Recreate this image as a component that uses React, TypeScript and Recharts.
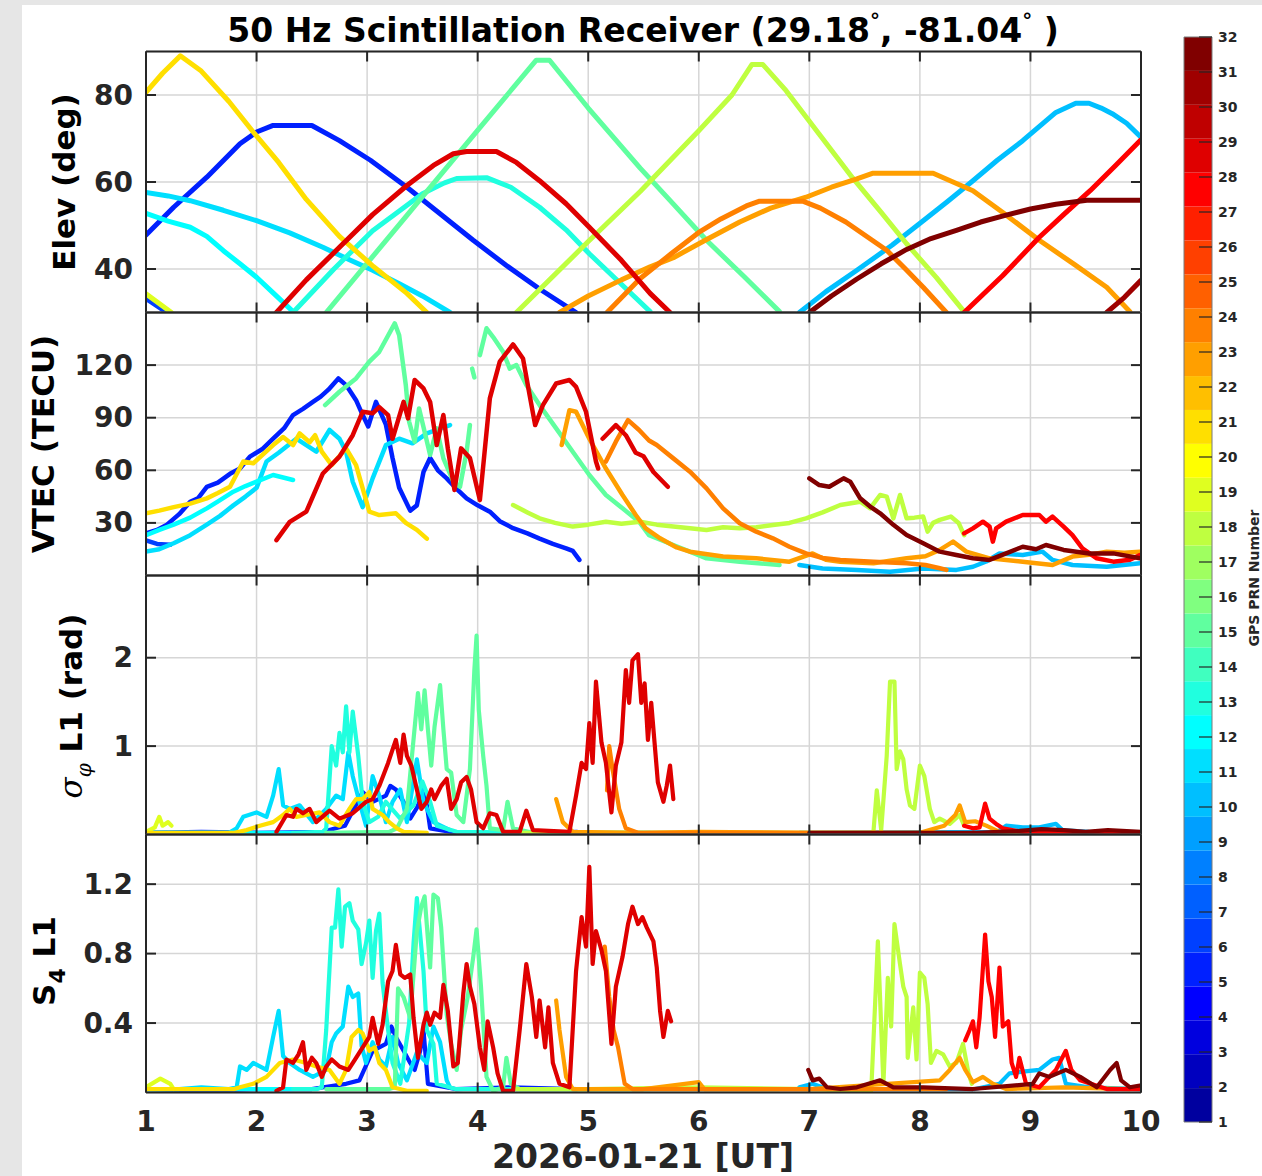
import React from "react";
import { LineChart, Line, XAxis, YAxis, CartesianGrid, ReferenceArea } from "recharts";

type Pt = [number, number | null];

// ---------------- axes / ticks ----------------
const hourTicks = [1, 2, 3, 4, 5, 6, 7, 8, 9, 10];
const elevTicks = [40, 60, 80];
const vtecTicks = [30, 60, 90, 120];
const sigTicks = [1, 2];
const s4Ticks = [0.4, 0.8, 1.2];
const prnTicks = Array.from({ length: 32 }, (_, i) => i + 1);

const titleText = "50 Hz Scintillation Receiver";
const latText = "29.18";
const lonText = "-81.04";
const xLabelText = "2026-01-21 [UT]";
const cbLabelText = "GPS PRN Number";

// ---------------- Elevation (deg) ----------------
const elevPrn05: Pt[] = [[1.0,47.8],[1.25,54.2],[1.55,61.1],[1.85,68.8],[2.0,71.5],[2.15,73],[2.5,73],[2.75,69.5],[3.03,65],[3.36,58.8],[3.66,52.7],[3.96,46.6],[4.26,40.8],[4.56,35.4],[4.89,30]];
const elevPrn06: Pt[] = [[1.0,33.2],[1.19,30]];
const elevPrn11: Pt[] = [[1.0,57.6],[1.2,56.8],[1.4,55.7],[1.7,53.5],[2.0,51.1],[2.3,48.3],[2.6,45],[2.85,42],[3.05,39.7],[3.3,36.5],[3.5,33.8],[3.75,30]];
const elevPrn12: Pt[] = [[1.0,52.8],[1.2,51],[1.4,49.6],[1.55,47.5],[1.7,44.2],[1.85,41.2],[2.0,38.1],[2.15,34.5],[2.33,30.2]];
const elevPrn13: Pt[] = [[2.33,30],[2.7,40],[3.05,48.8],[3.3,53.5],[3.5,57.3],[3.7,59.8],[3.81,60.8],[4.08,61],[4.3,58.8],[4.56,54.2],[4.8,49],[5.01,43.5],[5.3,36.5],[5.56,30.2]];
const elevPrn15: Pt[] = [[2.63,30],[3.3,50.5],[3.99,71.6],[4.53,88],[4.65,88],[5.0,77],[5.47,63.2],[5.75,55.5],[6.07,46.6],[6.4,38.5],[6.73,30.2]];
const elevPrn18: Pt[] = [[4.35,30],[5.0,46.3],[5.47,57.8],[6.0,71.8],[6.3,80],[6.48,87],[6.58,87],[6.79,81],[7.09,71],[7.39,61],[7.65,53],[7.88,45.8],[8.15,38],[8.40,30.2]];
const elevPrn19: Pt[] = [[1.0,34.3],[1.23,30]];
const elevPrn21: Pt[] = [[1.0,80.6],[1.15,85],[1.31,89],[1.5,85.5],[1.75,78.5],[1.97,71.5],[2.2,64.5],[2.45,56],[2.75,47.5],[3.06,40.5],[3.36,34.4],[3.54,30]];
const elevPrn23: Pt[] = [[4.74,30],[5.0,33.8],[5.3,37.5],[5.56,40.5],[5.77,42.6],[6.05,46.5],[6.37,50.8],[6.65,54],[6.97,56.5],[7.2,58.8],[7.43,60.7],[7.57,62],[8.12,62],[8.3,60],[8.48,58],[8.75,53],[9.08,46.6],[9.4,41],[9.69,35.8],[9.90,30.2]];
const elevPrn24: Pt[] = [[5.17,30],[5.47,37.8],[5.75,43.5],[6.0,48.4],[6.2,51.5],[6.43,54.5],[6.55,55.6],[6.94,55.6],[7.1,54],[7.33,50.8],[7.5,47.8],[7.70,44.3],[7.87,40],[8.03,35.8],[8.24,30]];
const elevPrn10: Pt[] = [[6.91,30],[7.15,34.8],[7.43,39.7],[7.75,45.5],[8.03,51.1],[8.25,55.5],[8.48,60.3],[8.7,65],[8.93,69.5],[9.1,73.2],[9.23,76],[9.41,78.1],[9.53,78.1],[9.64,77],[9.74,75.7],[9.87,73.5],[10.0,70.3]];
const elevPrn28: Pt[] = [[8.40,30],[8.75,38.5],[9.08,47.3],[9.3,52.5],[9.54,58],[9.77,63.8],[10.0,69.7]];
const elevPrn29: Pt[] = [[2.18,30],[2.45,37.5],[2.75,45],[3.05,52.5],[3.36,59.2],[3.6,63.8],[3.78,66.5],[3.9,67],[4.17,67],[4.35,64.5],[4.56,60.3],[4.8,55],[5.01,49.6],[5.3,42],[5.56,34.4],[5.74,30]];
const elevPrn31: Pt[] = [[9.69,30],[9.85,33.5],[10.0,37.4]];
const elevPrn32: Pt[] = [[7.0,30],[7.2,33.8],[7.43,37.7],[7.65,41.2],[7.88,44.5],[8.1,47],[8.33,48.9],[8.55,50.8],[8.78,52.4],[9.0,53.8],[9.23,54.9],[9.51,55.8],[10.0,55.8]];

// ---------------- VTEC (TECU) ----------------
const vtecPrn05: Pt[] = [[1.0,24],[1.1,26],[1.19,29],[1.3,35],[1.40,42],[1.47,44],[1.55,50.6],[1.65,53],[1.76,58],[1.85,61],[1.94,67.8],[2.05,72],[2.15,78],[2.25,84],[2.33,91.5],[2.42,95],[2.51,99],[2.58,102],[2.65,106],[2.74,112.4],[2.81,108.6],[2.90,100],[2.96,91.5],[3.01,85],[3.08,99],[3.17,86],[3.23,67],[3.29,50],[3.39,37],[3.45,40],[3.51,59],[3.57,67],[3.64,60],[3.72,55.4],[3.80,50],[3.90,44],[4.0,40],[4.11,36.4],[4.2,31],[4.32,27],[4.45,24],[4.56,21],[4.68,18],[4.80,15.5],[4.86,14],[4.92,8.9]];
const vtecPrn06: Pt[] = [[1.0,20],[1.1,18],[1.22,17.5]];
const vtecPrn11: Pt[] = [[1.0,13.6],[1.12,15],[1.25,18.4],[1.4,23],[1.55,29],[1.67,34],[1.79,40],[1.9,45],[2.0,50],[2.09,65],[2.2,70],[2.36,78],[2.54,70.6],[2.66,83],[2.75,78],[2.81,70.6],[2.87,53.5],[2.96,39],[3.05,55.4],[3.17,74.4],[3.29,78],[3.41,75.4],[3.54,81],[3.75,85.8]];
const vtecPrn12: Pt[] = [[1.0,23],[1.12,26],[1.25,29],[1.4,33],[1.55,38.3],[1.67,43],[1.79,47.8],[1.9,51],[2.0,53.5],[2.15,57.3],[2.33,54.5]];
const vtecPrn15: Pt[] = [[2.62,97.2],[2.75,104.8],[2.90,112.4],[3.02,122],[3.11,127.6],[3.25,143.8],[3.29,137],[3.35,108.6],[3.38,87.7],[3.43,76.3],[3.47,95.3],[3.52,82],[3.57,68.7],[3.63,83.9],[3.69,66.8],[3.78,53.5],[3.84,50.6],[3.90,70.6],[3.93,85.8],[3.945,null],[3.95,118],[3.97,113],[3.985,null],[4.02,125.7],[4.08,141],[4.14,136],[4.23,127.6],[4.29,118],[4.35,120],[4.44,108.6],[4.56,97.2],[4.71,83.9],[4.86,70.6],[5.01,57.3],[5.16,45.9],[5.31,38.3],[5.46,30.7],[5.55,23],[5.77,17.4],[6.07,9.8],[6.37,7.9],[6.73,6]];
const vtecPrn18: Pt[] = [[4.32,40.2],[4.45,36],[4.56,32.6],[4.7,30],[4.86,27.9],[5.0,29],[5.16,30.7],[5.3,29.5],[5.47,30.7],[5.62,29],[5.77,27.9],[5.92,27],[6.07,26],[6.22,27.5],[6.37,26.9],[6.52,27.5],[6.67,28.8],[6.82,30],[6.97,32.6],[7.12,36],[7.28,40.2],[7.46,42.1],[7.55,38.3],[7.64,45.9],[7.70,45],[7.76,32.6],[7.82,45.9],[7.88,32.6],[7.95,33],[8.03,33.6],[8.07,25],[8.12,30],[8.18,31.7],[8.28,33.6],[8.35,30],[8.40,23]];
const vtecPrn21: Pt[] = [[1.0,35.5],[1.12,37],[1.25,39],[1.4,41],[1.55,44],[1.65,47],[1.76,50.6],[1.88,65],[1.97,64],[2.15,74.4],[2.24,79],[2.33,74.4],[2.39,81],[2.48,76],[2.53,80],[2.59,70.6],[2.68,63],[2.81,72.5],[2.90,63],[3.02,36.4],[3.11,34.5],[3.26,35.5],[3.35,30],[3.45,26],[3.54,21]];
const vtecPrn23: Pt[] = [[4.76,74.4],[4.83,94.3],[4.89,93.4],[5.01,78],[5.16,61],[5.31,45.9],[5.43,34.5],[5.52,26.9],[5.65,21.2],[5.80,16],[5.92,13.6],[6.22,10.8],[6.52,9.8],[6.82,7.9],[7.03,12.6],[7.15,9],[7.28,7.9],[7.58,7],[7.88,9.8],[8.05,11],[8.18,14.6],[8.30,19.3],[8.42,13.6],[8.63,9.8],[8.93,7.9],[9.20,6],[9.38,10.8],[9.55,12],[9.69,13.6],[9.85,13],[9.99,13.6]];
const vtecPrn24: Pt[] = [[5.16,65],[5.25,76.3],[5.36,88.6],[5.46,83],[5.55,77],[5.62,74.4],[5.77,66.8],[5.92,59.2],[6.07,49.7],[6.22,38.3],[6.37,29.8],[6.52,25],[6.67,21.2],[6.82,16.4],[6.97,12.6],[7.12,10],[7.28,8.9],[7.58,7.9],[7.88,7],[8.05,6],[8.18,4.1],[8.24,3.2]];
const vtecPrn10: Pt[] = [[6.91,6],[7.12,4],[7.43,3.2],[7.73,2.2],[8.03,4],[8.33,3.2],[8.48,5],[8.6,8],[8.72,12.6],[8.93,11.7],[9.11,13.6],[9.20,8.9],[9.38,6],[9.69,5],[9.99,7]];
const vtecPrn28: Pt[] = [[8.40,24],[8.48,26.9],[8.57,30.7],[8.63,27.9],[8.66,19.3],[8.69,26.9],[8.78,30.7],[8.93,34.5],[9.08,34.5],[9.14,30.7],[9.20,33.6],[9.30,27.9],[9.38,23],[9.47,15.5],[9.60,9.8],[9.75,7.9],[9.9,9],[9.99,11.7]];
const vtecPrn29: Pt[] = [[2.18,20.2],[2.30,30.6],[2.45,36.4],[2.60,58.2],[2.75,67.8],[2.87,80],[2.96,93.4],[3.05,92.5],[3.11,96],[3.19,91.5],[3.23,78],[3.33,99],[3.37,89.6],[3.43,111.5],[3.51,106.7],[3.57,99],[3.63,74.4],[3.69,91.5],[3.73,72.5],[3.79,48.8],[3.85,72.5],[3.93,67],[4.02,43],[4.11,101],[4.20,122],[4.32,131.8],[4.41,123.8],[4.47,102.9],[4.52,85.8],[4.59,97.2],[4.71,109.5],[4.83,111.5],[4.89,107.6],[4.98,93.4],[5.07,65],[5.09,61],[5.11,null],[5.13,78],[5.25,85.8],[5.34,80],[5.43,70],[5.50,68],[5.59,59],[5.72,50.6]];
const vtecPrn32: Pt[] = [[7.0,55.4],[7.09,51.6],[7.18,50.6],[7.31,55.4],[7.37,53.5],[7.46,44],[7.55,39.3],[7.64,35.5],[7.76,28.9],[7.88,23.1],[8.03,18.4],[8.18,13.6],[8.33,11.7],[8.48,9.8],[8.63,8.9],[8.78,12.6],[8.93,16.4],[9.05,15],[9.14,17.4],[9.30,14.6],[9.53,12.6],[9.75,12.6],[9.99,9.8]];

// ---------------- sigma_phi L1 (rad) ----------------
const sigPrn05: Pt[] = [[1.0,0.02],[1.5,0.03],[2.0,0.02],[2.6,0.03],[2.8,0.1],[2.96,0.48],[3.05,0.37],[3.17,0.44],[3.21,0.55],[3.26,0.51],[3.33,0.37],[3.39,0.18],[3.45,0.3],[3.52,0.51],[3.57,0.07],[3.8,0.02],[4.5,0.02],[4.9,0.03]];
const sigPrn06: Pt[] = [[1.0,0.02],[1.19,0.02]];
const sigPrn11: Pt[] = [[1.0,0.02],[1.75,0.02],[1.82,0.07],[1.88,0.2],[2.0,0.25],[2.09,0.2],[2.15,0.44],[2.20,0.74],[2.24,0.33],[2.30,0.29],[2.39,0.33],[2.51,0.14],[2.63,0.29],[2.72,0.44],[2.78,0.4],[2.83,0.93],[2.87,0.66],[2.93,0.37],[2.99,0.1],[3.05,0.66],[3.11,0.44],[3.17,0.14],[3.23,0.37],[3.30,0.51],[3.36,0.14],[3.45,0.85],[3.51,0.37],[3.60,0.14],[3.75,0.05]];
const sigPrn12: Pt[] = [[1.0,0.02],[2.33,0.02]];
const sigPrn13: Pt[] = [[2.33,0.02],[2.6,0.03],[2.63,0.07],[2.68,1.0],[2.72,0.78],[2.75,1.15],[2.78,0.93],[2.81,1.45],[2.84,0.93],[2.87,1.39],[2.92,0.89],[2.96,0.37],[3.02,0.14],[3.10,0.2],[3.17,0.37],[3.30,0.18],[3.42,0.33],[3.50,0.6],[3.57,0.37],[3.63,0.1],[3.81,0.03],[4.5,0.02],[5.56,0.02]];
const sigPrn15: Pt[] = [[2.63,0.02],[3.2,0.03],[3.27,0.07],[3.36,0.29],[3.46,1.6],[3.49,1.19],[3.52,1.63],[3.55,1.19],[3.58,0.78],[3.61,1.22],[3.66,1.69],[3.69,1.19],[3.72,0.74],[3.76,0.7],[3.81,0.22],[3.87,0.14],[3.93,0.74],[3.97,1.86],[3.99,2.25],[4.01,1.41],[4.05,0.89],[4.08,0.55],[4.11,0.07],[4.23,0.05],[4.27,0.37],[4.32,0.07],[4.5,0.02],[6.73,0.02]];
const sigPrn18: Pt[] = [[4.35,0.02],[7.55,0.02],[7.58,0.03],[7.61,0.5],[7.65,0.05],[7.70,0.89],[7.73,1.73],[7.77,1.73],[7.79,0.74],[7.82,0.94],[7.85,0.85],[7.88,0.51],[7.91,0.33],[7.95,0.29],[8.0,0.78],[8.04,0.66],[8.09,0.29],[8.13,0.14],[8.18,0.18],[8.27,0.12],[8.36,0.22],[8.40,0.1]];
const sigPrn19: Pt[] = [[1.0,0.03],[1.08,0.08],[1.12,0.2],[1.15,0.1],[1.2,0.14],[1.23,0.1]];
const sigPrn21: Pt[] = [[1.0,0.02],[1.8,0.02],[1.91,0.05],[2.03,0.1],[2.15,0.14],[2.24,0.22],[2.30,0.29],[2.36,0.2],[2.45,0.22],[2.57,0.25],[2.66,0.14],[2.75,0.1],[2.84,0.29],[2.90,0.4],[2.96,0.4],[3.02,0.48],[3.05,0.29],[3.14,0.22],[3.20,0.14],[3.27,0.07],[3.33,0.03],[3.54,0.02]];
const sigPrn23: Pt[] = [[4.71,0.40],[4.77,0.14],[4.86,0.03],[5.5,0.02],[6.0,0.03],[7.0,0.02],[8.0,0.02],[8.22,0.1],[8.32,0.22],[8.36,0.33],[8.41,0.14],[8.50,0.15],[8.60,0.1],[8.72,0.03],[9.9,0.02]];
const sigPrn24: Pt[] = [[5.17,0.5],[5.19,1.0],[5.22,0.74],[5.28,0.29],[5.34,0.07],[5.45,0.02],[8.24,0.02]];
const sigPrn10: Pt[] = [[6.91,0.02],[8.7,0.03],[8.78,0.1],[8.93,0.08],[9.08,0.08],[9.23,0.12],[9.29,0.05],[9.53,0.03],[10,0.02]];
const sigPrn28: Pt[] = [[8.40,0.1],[8.48,0.07],[8.54,0.08],[8.59,0.35],[8.63,0.18],[8.69,0.12],[8.75,0.07],[8.93,0.03],[9.38,0.01],[10,0.01]];
const sigPrn29: Pt[] = [[2.18,0.03],[2.27,0.22],[2.33,0.2],[2.36,0.29],[2.42,0.24],[2.48,0.29],[2.54,0.14],[2.66,0.27],[2.75,0.18],[2.87,0.24],[2.99,0.37],[3.05,0.4],[3.11,0.55],[3.19,0.81],[3.23,0.96],[3.26,1.07],[3.30,0.81],[3.33,1.13],[3.36,0.89],[3.40,0.78],[3.45,0.51],[3.49,0.29],[3.54,0.37],[3.58,0.51],[3.61,0.4],[3.67,0.55],[3.72,0.63],[3.76,0.29],[3.81,0.4],[3.85,0.59],[3.90,0.65],[3.94,0.51],[3.99,0.14],[4.05,0.07],[4.11,0.24],[4.17,0.22],[4.23,0.03],[4.38,0.03],[4.44,0.27],[4.50,0.05],[4.83,0.03],[4.89,0.44],[4.94,0.81],[4.98,0.74],[5.01,1.26],[5.04,0.81],[5.07,1.73],[5.12,1.04],[5.16,0.81],[5.21,0.25],[5.25,0.78],[5.30,1.04],[5.34,1.86],[5.37,1.49],[5.40,1.97],[5.45,2.04],[5.48,1.49],[5.51,1.71],[5.54,1.07],[5.57,1.49],[5.60,1.04],[5.63,0.59],[5.68,0.37],[5.71,0.55],[5.74,0.78],[5.77,0.40]];
const sigPrn32: Pt[] = [[7.0,0.02],[8.5,0.02],[8.9,0.04],[9.1,0.06],[9.3,0.05],[9.5,0.03],[9.7,0.05],[10,0.03]];

// ---------------- S4 L1 ----------------
const s4Prn05: Pt[] = [[1.0,0.02],[1.5,0.01],[2.0,0.02],[2.5,0.02],[2.81,0.05],[2.93,0.07],[3.05,0.24],[3.17,0.28],[3.22,0.38],[3.26,0.32],[3.33,0.24],[3.39,0.17],[3.43,0.13],[3.48,0.24],[3.51,0.36],[3.55,0.05],[3.8,0.02],[4.3,0.03],[4.9,0.02]];
const s4Prn06: Pt[] = [[1.0,0.02],[1.19,0.02]];
const s4Prn11: Pt[] = [[1.0,0.02],[1.3,0.02],[1.5,0.03],[1.75,0.02],[1.82,0.03],[1.85,0.15],[1.91,0.13],[1.97,0.17],[2.03,0.15],[2.09,0.13],[2.15,0.32],[2.20,0.47],[2.24,0.21],[2.30,0.17],[2.39,0.13],[2.51,0.09],[2.63,0.13],[2.68,0.29],[2.72,0.34],[2.78,0.38],[2.83,0.61],[2.87,0.55],[2.92,0.57],[2.95,0.27],[2.99,0.17],[3.05,0.29],[3.11,0.19],[3.17,0.15],[3.23,0.32],[3.28,0.17],[3.36,0.07],[3.45,0.23],[3.54,0.17],[3.60,0.38],[3.66,0.29],[3.72,0.07],[3.75,0.03]];
const s4Prn12: Pt[] = [[1.0,0.02],[2.33,0.02]];
const s4Prn13: Pt[] = [[2.33,0.02],[2.55,0.02],[2.59,0.03],[2.63,0.36],[2.68,0.95],[2.71,0.95],[2.74,1.17],[2.77,0.84],[2.80,1.07],[2.84,1.09],[2.87,0.99],[2.92,0.94],[2.95,0.74],[2.99,0.86],[3.02,0.99],[3.05,0.66],[3.08,0.93],[3.11,1.03],[3.14,0.63],[3.19,0.36],[3.23,0.17],[3.30,0.05],[3.38,0.4],[3.42,0.86],[3.45,1.12],[3.51,0.7],[3.54,0.36],[3.60,0.28],[3.63,0.05],[3.8,0.02],[5.56,0.02]];
const s4Prn15: Pt[] = [[2.63,0.02],[3.2,0.02],[3.25,0.03],[3.28,0.6],[3.33,0.55],[3.39,0.43],[3.45,0.93],[3.49,1.07],[3.52,1.13],[3.57,0.72],[3.60,1.14],[3.64,1.12],[3.67,0.95],[3.72,0.45],[3.76,0.28],[3.81,0.13],[3.85,0.36],[3.91,0.55],[3.96,0.78],[3.99,0.94],[4.03,0.61],[4.08,0.09],[4.14,0.01],[4.23,0.03],[4.26,0.2],[4.30,0.05],[4.38,0.02],[6.73,0.02]];
const s4Prn18: Pt[] = [[4.35,0.02],[5.0,0.02],[6.0,0.03],[7.0,0.02],[7.56,0.01],[7.62,0.87],[7.67,0.05],[7.71,0.66],[7.74,0.38],[7.77,0.97],[7.82,0.74],[7.85,0.61],[7.88,0.55],[7.89,0.2],[7.94,0.49],[7.97,0.19],[8.0,0.69],[8.04,0.66],[8.07,0.51],[8.10,0.17],[8.15,0.24],[8.21,0.22],[8.27,0.15],[8.33,0.17],[8.39,0.28],[8.44,0.11],[8.47,0.05]];
const s4Prn19: Pt[] = [[1.0,0.03],[1.13,0.08],[1.22,0.05],[1.25,0.02]];
const s4Prn21: Pt[] = [[1.0,0.02],[1.8,0.02],[1.85,0.03],[1.97,0.05],[2.09,0.09],[2.21,0.17],[2.33,0.19],[2.45,0.17],[2.54,0.15],[2.66,0.13],[2.75,0.05],[2.81,0.13],[2.86,0.32],[2.92,0.36],[2.96,0.34],[3.02,0.24],[3.07,0.26],[3.11,0.17],[3.17,0.13],[3.23,0.03],[3.36,0.01],[3.54,0.01]];
const s4Prn23: Pt[] = [[4.71,0.53],[4.74,0.36],[4.80,0.09],[4.86,0.02],[5.5,0.02],[6.0,0.06],[6.05,0.02],[7.0,0.02],[8.18,0.07],[8.27,0.13],[8.36,0.2],[8.41,0.13],[8.48,0.06],[8.57,0.09],[8.66,0.05],[8.78,0.02],[9.3,0.03],[9.9,0.02]];
const s4Prn24: Pt[] = [[5.15,0.84],[5.19,0.55],[5.23,0.36],[5.27,0.26],[5.33,0.05],[5.40,0.02],[8.24,0.02]];
const s4Prn10: Pt[] = [[6.91,0.03],[7.03,0.05],[7.16,0.02],[8.5,0.02],[8.72,0.05],[8.81,0.11],[8.93,0.12],[9.08,0.13],[9.20,0.19],[9.26,0.2],[9.32,0.05],[9.53,0.03],[9.99,0.02]];
const s4Prn28: Pt[] = [[8.41,0.3],[8.45,0.36],[8.48,0.41],[8.51,0.26],[8.54,0.43],[8.59,0.91],[8.62,0.64],[8.65,0.55],[8.68,0.32],[8.72,0.72],[8.75,0.38],[8.80,0.41],[8.83,0.17],[8.87,0.09],[8.90,0.2],[8.96,0.05],[9.08,0.03],[9.23,0.13],[9.32,0.24],[9.37,0.13],[9.45,0.07],[9.69,0.02],[9.99,0.02]];
const s4Prn29: Pt[] = [[2.18,0.01],[2.24,0.03],[2.27,0.19],[2.33,0.17],[2.38,0.22],[2.42,0.29],[2.45,0.13],[2.50,0.20],[2.54,0.17],[2.59,0.09],[2.63,0.15],[2.68,0.19],[2.75,0.15],[2.83,0.13],[2.89,0.19],[2.96,0.26],[3.02,0.32],[3.05,0.43],[3.10,0.28],[3.14,0.39],[3.19,0.64],[3.23,0.70],[3.26,0.85],[3.30,0.68],[3.34,0.66],[3.39,0.68],[3.42,0.43],[3.46,0.2],[3.51,0.39],[3.54,0.46],[3.57,0.39],[3.61,0.46],[3.66,0.43],[3.69,0.62],[3.73,0.47],[3.78,0.15],[3.82,0.17],[3.87,0.57],[3.90,0.74],[3.93,0.61],[3.97,0.51],[4.02,0.26],[4.06,0.13],[4.09,0.41],[4.14,0.26],[4.18,0.11],[4.23,0.01],[4.32,0.01],[4.38,0.36],[4.44,0.74],[4.49,0.55],[4.53,0.32],[4.56,0.53],[4.61,0.26],[4.64,0.49],[4.68,0.17],[4.74,0.05],[4.83,0.03],[4.89,0.70],[4.94,1.01],[4.98,0.84],[5.01,1.30],[5.04,0.74],[5.07,0.93],[5.12,0.82],[5.16,0.70],[5.21,0.28],[5.25,0.61],[5.31,0.78],[5.36,0.97],[5.40,1.07],[5.45,0.97],[5.49,1.01],[5.53,0.95],[5.59,0.87],[5.62,0.72],[5.65,0.47],[5.68,0.32],[5.72,0.47],[5.75,0.41]];
const s4Prn32: Pt[] = [[6.99,0.13],[7.03,0.07],[7.09,0.08],[7.16,0.03],[7.28,0.02],[7.43,0.03],[7.64,0.07],[7.76,0.03],[8.03,0.03],[8.48,0.02],[9.02,0.05],[9.08,0.11],[9.17,0.09],[9.32,0.13],[9.45,0.09],[9.60,0.03],[9.72,0.13],[9.78,0.17],[9.82,0.07],[9.90,0.03],[9.99,0.04]];

// ---------------- series tables ----------------
const elevSeries: [number, Pt[]][] = [[5, elevPrn05],[6, elevPrn06],[10, elevPrn10],[11, elevPrn11],[12, elevPrn12],[13, elevPrn13],[15, elevPrn15],[18, elevPrn18],[19, elevPrn19],[21, elevPrn21],[23, elevPrn23],[24, elevPrn24],[28, elevPrn28],[29, elevPrn29],[31, elevPrn31],[32, elevPrn32]];
const vtecSeries: [number, Pt[]][] = [[5, vtecPrn05],[6, vtecPrn06],[10, vtecPrn10],[11, vtecPrn11],[12, vtecPrn12],[15, vtecPrn15],[18, vtecPrn18],[21, vtecPrn21],[23, vtecPrn23],[24, vtecPrn24],[28, vtecPrn28],[29, vtecPrn29],[32, vtecPrn32]];
const sigSeries: [number, Pt[]][] = [[5, sigPrn05],[6, sigPrn06],[10, sigPrn10],[11, sigPrn11],[12, sigPrn12],[13, sigPrn13],[15, sigPrn15],[18, sigPrn18],[19, sigPrn19],[21, sigPrn21],[23, sigPrn23],[24, sigPrn24],[28, sigPrn28],[29, sigPrn29],[32, sigPrn32]];
const s4Series: [number, Pt[]][] = [[5, s4Prn05],[6, s4Prn06],[10, s4Prn10],[11, s4Prn11],[12, s4Prn12],[13, s4Prn13],[15, s4Prn15],[18, s4Prn18],[19, s4Prn19],[21, s4Prn21],[23, s4Prn23],[24, s4Prn24],[28, s4Prn28],[29, s4Prn29],[32, s4Prn32]];

// ---------------- styling ----------------
const W = 1262;
const H = 1176;
const PLOT_L = 146;
const PLOT_R = 1141;
const FONT = "'DejaVu Sans', 'Liberation Sans', sans-serif";
const AX = "#262626";
const GRID = "#d6d6d6";
const TICK_FS = 28;

// MATLAB jet(32) colormap
const jet = (i: number): string => {
  const u: number[] = [];
  for (let k = 1; k <= 8; k++) u.push(k / 8);
  for (let k = 0; k < 7; k++) u.push(1);
  for (let k = 8; k >= 1; k--) u.push(k / 8);
  const r = i >= 13 ? u[i - 13] : 0;
  const g = i >= 5 && i <= 27 ? u[i - 5] : 0;
  const b = i <= 19 ? u[i + 3] : 0;
  const h = (v: number) => Math.round(v * 255).toString(16).padStart(2, "0");
  return `#${h(r)}${h(g)}${h(b)}`;
};

const toRows = (pts: Pt[]) => pts.map(([x, y]) => ({ x, y }));

const leftTick = (props: any) => {
  const { x, y, payload } = props;
  return (
    <g>
      <line x1={x} x2={x + 10} y1={y} y2={y} stroke={AX} strokeWidth={2} />
      <text x={x - 13} y={y} textAnchor="end" dominantBaseline="central" fontSize={TICK_FS} fontWeight="bold" fontFamily={FONT} fill={AX}>
        {payload.value}
      </text>
    </g>
  );
};
const rightTick = (props: any) => {
  const { x, y } = props;
  return <line x1={x - 10} x2={x} y1={y} y2={y} stroke={AX} strokeWidth={2} />;
};
const topTick = (props: any) => {
  const { x, y } = props;
  return <line x1={x} x2={x} y1={y} y2={y + 10} stroke={AX} strokeWidth={2} />;
};
const makeBottomTick = (showLabel: boolean) => (props: any) => {
  const { x, y, payload } = props;
  return (
    <g>
      <line x1={x} x2={x} y1={y - 10} y2={y} stroke={AX} strokeWidth={2} />
      {showLabel ? (
        <text x={x} y={y + 38} textAnchor="middle" fontSize={TICK_FS} fontWeight="bold" fontFamily={FONT} fill={AX}>
          {payload.value}
        </text>
      ) : null}
    </g>
  );
};

type PanelProps = {
  top: number;
  bottom: number;
  domain: [number, number];
  ticks: number[];
  series: [number, Pt[]][];
  sw: number;
  showX: boolean;
};

function Panel({ top, bottom, domain, ticks, series, sw, showX }: PanelProps) {
  return (
    <div style={{ position: "absolute", left: 0, top: 0 }}>
      <LineChart
        width={W}
        height={H}
        margin={{ top: top - 1, bottom: H - bottom - 1, left: PLOT_L - 1, right: W - PLOT_R - 1 }}
      >
        <CartesianGrid xAxisId="b" yAxisId="l" stroke={GRID} strokeWidth={1.5} />
        <XAxis xAxisId="b" dataKey="x" type="number" domain={[1, 10]} ticks={hourTicks} allowDataOverflow orientation="bottom" height={1} tickSize={0} tickMargin={0} interval={0} axisLine={{ stroke: AX, strokeWidth: 2 }} tickLine={false} tick={makeBottomTick(showX)} />
        <XAxis xAxisId="t" dataKey="x" type="number" domain={[1, 10]} ticks={hourTicks} allowDataOverflow orientation="top" height={1} tickSize={0} tickMargin={0} interval={0} axisLine={{ stroke: AX, strokeWidth: 2 }} tickLine={false} tick={topTick} />
        <YAxis yAxisId="l" type="number" domain={domain} ticks={ticks} allowDataOverflow orientation="left" width={1} tickSize={0} tickMargin={0} interval={0} axisLine={{ stroke: AX, strokeWidth: 2 }} tickLine={false} tick={leftTick} />
        <YAxis yAxisId="r" type="number" domain={domain} ticks={ticks} allowDataOverflow orientation="right" width={1} tickSize={0} tickMargin={0} interval={0} axisLine={{ stroke: AX, strokeWidth: 2 }} tickLine={false} tick={rightTick} />
        {series.map(([prn, pts]) => (
          <Line
            key={prn}
            xAxisId="b"
            yAxisId="l"
            data={toRows(pts)}
            dataKey="y"
            stroke={jet(prn)}
            strokeWidth={sw}
            strokeLinejoin="round"
            strokeLinecap="round"
            dot={false}
            activeDot={false}
            isAnimationActive={false}
          />
        ))}
        <Line xAxisId="t" yAxisId="r" data={[{ x: 1, y: domain[0] }, { x: 10, y: domain[1] }]} dataKey="y" stroke="none" dot={false} activeDot={false} isAnimationActive={false} />
      </LineChart>
    </div>
  );
}

const cbTick = (props: any) => {
  const { x, y, payload } = props;
  return (
    <g>
      <line x1={x - 13} x2={x} y1={y} y2={y} stroke={AX} strokeWidth={1.2} />
      <text x={x + 6} y={y} textAnchor="start" dominantBaseline="central" fontSize={14} fontWeight="bold" fontFamily={FONT} fill={AX}>
        {payload.value}
      </text>
    </g>
  );
};

function ColorBar() {
  const bands = prnTicks.map((p) => ({ p, y1: 1 + ((p - 1) * 31) / 32, y2: 1 + (p * 31) / 32 }));
  return (
    <div style={{ position: "absolute", left: 0, top: 0 }}>
      <LineChart width={W} height={H} margin={{ top: 37, bottom: H - 1122, left: 1184, right: W - 1212 - 1 }}>
        <XAxis xAxisId="c" dataKey="x" type="number" domain={[0, 1]} allowDataOverflow hide />
        <YAxis yAxisId="c" type="number" domain={[1, 32]} ticks={prnTicks} allowDataOverflow orientation="right" width={1} tickSize={0} tickMargin={0} interval={0} axisLine={false} tickLine={false} tick={cbTick} />
        {bands.map((b) => (
          <ReferenceArea key={b.p} xAxisId="c" yAxisId="c" y1={b.y1} y2={b.y2} fill={jet(b.p)} fillOpacity={1} stroke="none" />
        ))}
        <ReferenceArea xAxisId="c" yAxisId="c" y1={1} y2={32} fill="none" stroke="#7a7a7a" strokeWidth={1} />
        <Line xAxisId="c" yAxisId="c" data={[{ x: 0, y: 1 }, { x: 1, y: 32 }]} dataKey="y" stroke="none" dot={false} activeDot={false} isAnimationActive={false} />
      </LineChart>
    </div>
  );
}

export default function App() {
  const lbl = { fontFamily: FONT, fontWeight: "bold" as const, fill: "#000" };
  return (
    <div style={{ position: "absolute", left: 0, top: 0, width: W, height: H, background: "#e6e6e6", overflow: "hidden" }}>
      <div style={{ position: "absolute", left: 22, top: 5, width: W - 22, height: H - 5, background: "#ffffff" }} />
      <Panel top={51.5} bottom={312.5} domain={[30, 90]} ticks={elevTicks} series={elevSeries} sw={5} showX={false} />
      <Panel top={312.5} bottom={575.5} domain={[0, 150]} ticks={vtecTicks} series={vtecSeries} sw={4.5} showX={false} />
      <Panel top={575.5} bottom={834.5} domain={[0, 2.93]} ticks={sigTicks} series={sigSeries} sw={4.2} showX={false} />
      <Panel top={834.5} bottom={1092.5} domain={[0, 1.486]} ticks={s4Ticks} series={s4Series} sw={4.2} showX={true} />
      <ColorBar />
      <svg width={W} height={H} style={{ position: "absolute", left: 0, top: 0, pointerEvents: "none" }}>
        <text x={643} y={42} textAnchor="middle" fontSize={33} {...lbl}>
          {titleText} ({latText}
          <tspan fontSize={20} dy={-15}>°</tspan>
          <tspan dy={15}>, {lonText}</tspan>
          <tspan fontSize={20} dy={-15}>°</tspan>
          <tspan dy={15}> )</tspan>
        </text>
        <text transform="translate(75,182) rotate(-90)" textAnchor="middle" fontSize={31} {...lbl}>Elev (deg)</text>
        <text transform="translate(54,444) rotate(-90)" textAnchor="middle" fontSize={31} {...lbl}>VTEC (TECU)</text>
        <text transform="translate(82,706) rotate(-90)" textAnchor="middle" fontSize={31} {...lbl}>
          <tspan fontFamily="'DejaVu Serif', serif" fontStyle="italic" fontWeight="normal">σ</tspan>
          <tspan fontFamily="'DejaVu Serif', serif" fontStyle="italic" fontWeight="normal" fontSize={20} dy={9}>φ</tspan>
          <tspan dy={-9}> L1 (rad)</tspan>
        </text>
        <text transform="translate(55,961) rotate(-90)" textAnchor="middle" fontSize={31} {...lbl}>
          S<tspan fontSize={22} dy={10}>4</tspan>
          <tspan dy={-10}> L1</tspan>
        </text>
        <text x={643} y={1168} textAnchor="middle" fontSize={33} {...lbl} fill={AX}>{xLabelText}</text>
        <text transform="translate(1259,578) rotate(-90)" textAnchor="middle" fontSize={14} {...lbl} fill={AX}>{cbLabelText}</text>
      </svg>
    </div>
  );
}
